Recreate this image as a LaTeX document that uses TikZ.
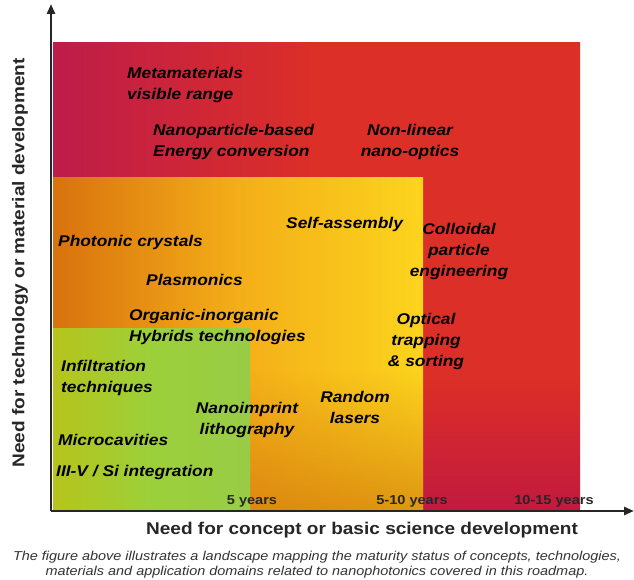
\documentclass[tikz,border=0pt]{standalone}
\usepackage{fontspec}
\setmainfont{Liberation Sans}[FakeStretch=1.12]
\usetikzlibrary{arrows.meta,fadings}
\definecolor{cRedL}{HTML}{BE1C4A}
\definecolor{cRed}{HTML}{DC2F27}
\definecolor{cRedDk}{HTML}{C21A40}
\definecolor{cOrL}{HTML}{D8720E}
\definecolor{cOrM}{HTML}{F4AE18}
\definecolor{cOrR}{HTML}{FCD41E}
\definecolor{cOrDk}{HTML}{CC6E0A}
\definecolor{cGrL}{HTML}{B6C41C}
\definecolor{cGrM}{HTML}{9CD03A}
\definecolor{cGrR}{HTML}{98CC46}

\begin{document}
\begin{tikzpicture}[
  x=1pt, y=-1pt,
  item/.style  = {inner sep=0pt, align=left, text=black,
                  font=\bfseries\itshape\fontsize{15.5}{21}\selectfont},
  citem/.style = {item, align=center},
  yrs/.style   = {inner sep=0pt, text=black!85,
                  font=\bfseries\fontsize{13}{15}\selectfont},
  ttl/.style   = {inner sep=0pt, text=black!85,
                  font=\bfseries\fontsize{17}{20}\selectfont},
  axis/.style  = {-{Triangle[length=10pt,width=8pt]}, line width=2.6pt, black!85}
]
\useasboundingbox (0,0) rectangle (634,580);

% ------------------------------------------------------------ le tre zone --
\shade[left color=cRedL, right color=cRed, middle color=cRed]
  (53,43) rectangle (580,510);
\fill[cRedDk, path fading=north] (423,380) rectangle (580,510);
\shade[left color=cOrL, right color=cOrR, middle color=cOrM]
  (53,178) rectangle (423,510);
\fill[cOrDk, opacity=.6, path fading=north] (250,370) rectangle (423,510);
\shade[left color=cGrL, right color=cGrR, middle color=cGrM]
  (53,328) rectangle (250,510);

% ------------------------------------------------------------------ voci --
\node[item, anchor=west]  (meta)    at (127,85)  {Metamaterials\\visible range};
\node[item, anchor=west]  (nanop)   at (153,142) {Nanoparticle-based\\Energy conversion};
\node[citem]              (nonlin)  at (410,142) {Non-linear\\nano-optics};
\node[item, anchor=west]  (selfas)  at (286,224) {Self-assembly};
\node[citem]              (colloid) at (459,251) {Colloidal\\particle\\engineering};
\node[item, anchor=west]  (photon)  at (58,242)  {Photonic crystals};
\node[item, anchor=west]  (plasm)   at (146,280) {Plasmonics};
\node[item, anchor=west]  (organic) at (129,327) {Organic-inorganic\\Hybrids technologies};
\node[citem]              (optical) at (426,341) {Optical\\trapping\\\& sorting};
\node[item, anchor=west]  (infil)   at (61,378)  {Infiltration\\techniques};
\node[citem]              (nanoimp) at (247,420) {Nanoimprint\\lithography};
\node[citem]              (random)  at (355,407) {Random\\lasers};
\node[item, anchor=west]  (micro)   at (58,440)  {Microcavities};
\node[item, anchor=west]  (iiiv)    at (56,472)  {III-V / Si integration};

% ------------------------------------------------------------------ anni --
\node[yrs] (y5)    at (252,501) {5 years};
\node[yrs] (y510)  at (412,501) {5-10 years};
\node[yrs] (y1015) at (554,501) {10-15 years};

% ------------------------------------------------------------------- assi --
\coordinate (orig) at (51,511);
\coordinate (ytip) at (51,4);
\coordinate (xtip) at (634,511);
\draw[axis] (orig) -- (ytip);
\draw[axis] (orig) -- (xtip);

\node[ttl] (xlab) at (362,530) {Need for concept or basic science development};
\node[ttl, rotate=90] (ylab) at (20,263) {Need for technology or material development};

% ----------------------------------------------------------------- didascalia --
\node[inner sep=0pt, align=center, text=black!80,
      font=\itshape\fontsize{12.9}{15}\selectfont] (capt) at (317,565)
  {The figure above illustrates a landscape mapping the maturity status of concepts, technologies,\\
   materials and application domains related to nanophotonics covered in this roadmap.};

\end{tikzpicture}
\end{document}
